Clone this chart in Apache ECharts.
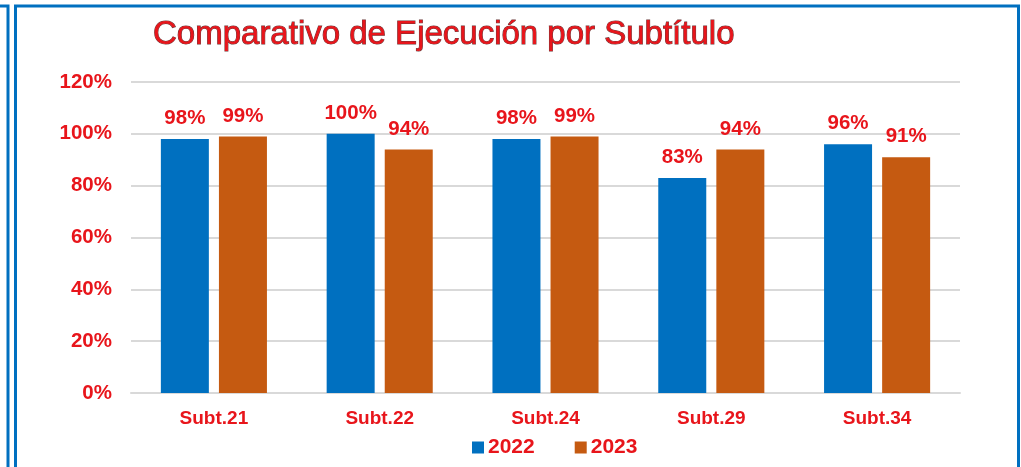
<!DOCTYPE html>
<html>
<head>
<meta charset="utf-8">
<script src="https://cdn.jsdelivr.net/npm/echarts@6/dist/echarts.min.js"></script>
<style>
  html, body { margin: 0; padding: 0; background: #fff; }
  #chart { width: 1021px; height: 467px; }
</style>
</head>
<body>
<div id="chart"></div>
<script>
var categories = ['Subt.21', 'Subt.22', 'Subt.24', 'Subt.29', 'Subt.34'];
var values2022 = [98, 100, 98, 83, 96];
var values2023 = [99, 94, 99, 94, 91];
var yTicks = [0, 20, 40, 60, 80, 100, 120];

var red = '#E8151B';
var font = 'Liberation Sans, Arial, sans-serif';

var chart = echarts.init(document.getElementById('chart'));

var labelStyle = {
    show: true,
    position: 'top',
    distance: 10,
    color: red,
    fontFamily: font,
    fontWeight: 'bold',
    fontSize: 20.5,
    formatter: '{c}%'
};

var option = {
    backgroundColor: '#fff',
    animation: false,
    title: {
        text: 'Comparativo de Ejecución por Subtítulo',
        left: 148,
        top: 13,
        textStyle: {
            color: red,
            fontFamily: font,
            fontWeight: 'normal',
            fontSize: 33,
            textBorderColor: '#6b3a3a',
            textBorderWidth: 1
        }
    },
    graphic: [
        { type: 'rect', shape: { x: -10, y: 6, width: 18, height: 480 },
          style: { fill: 'none', stroke: '#0070C0', lineWidth: 3 } },
        { type: 'rect', shape: { x: 15.5, y: 6, width: 1003, height: 480 },
          style: { fill: 'none', stroke: '#0070C0', lineWidth: 3 } }
    ],
    legend: {
        data: ['2022', '2023'],
        top: 432,
        left: 467,
        itemWidth: 12,
        itemHeight: 12,
        itemGap: 40,
        icon: 'rect',
        textStyle: { color: red, fontFamily: font, fontWeight: 'bold', fontSize: 21, padding: [0, 0, 0, -1] }
    },
    grid: { left: 131, right: 61, top: 82, bottom: 74 },
    xAxis: {
        type: 'category',
        data: categories,
        axisTick: { show: false },
        axisLine: { lineStyle: { color: '#d9d9d9', width: 2 } },
        axisLabel: { color: red, fontFamily: font, fontWeight: 'bold', fontSize: 19, margin: 16 }
    },
    yAxis: {
        type: 'value',
        min: yTicks[0],
        max: yTicks[yTicks.length - 1],
        interval: 20,
        axisLine: { show: false },
        axisTick: { show: false },
        splitLine: { lineStyle: { color: '#d9d9d9', width: 2 } },
        axisLabel: { color: red, fontFamily: font, fontWeight: 'bold', fontSize: 20.5, margin: 19, formatter: '{value}%' }
    },
    series: [
        { name: '2022', type: 'bar', data: values2022, barWidth: 48, barGap: '21%',
          itemStyle: { color: '#0070C0' }, label: labelStyle },
        { name: '2023', type: 'bar', data: values2023, barWidth: 48, barGap: '21%',
          itemStyle: { color: '#C55A11' }, label: labelStyle }
    ]
};

chart.setOption(option);
window.addEventListener('resize', function () {
    chart.resize();
});
</script>
</body>
</html>
